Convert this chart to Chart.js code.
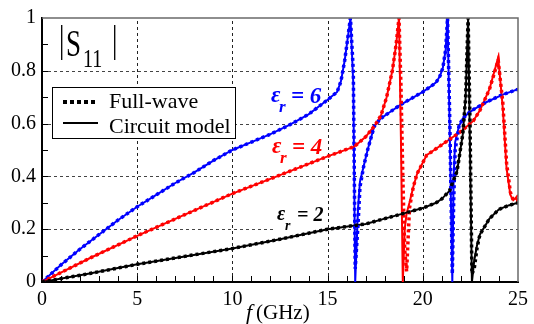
<!DOCTYPE html>
<html>
<head>
<meta charset="utf-8">
<script src="https://cdn.jsdelivr.net/npm/chart.js@4.4.0/dist/chart.umd.min.js"></script>
<style>
body { margin: 0; background: #fff; }
#wrap { width: 534px; height: 324px; }
</style>
</head>
<body>
<div id="wrap"><canvas id="s11Chart" width="534" height="324"></canvas></div>
<script>
// frequency (GHz) and |S11|, one set per permittivity
const freqBlue = [0, 1, 2, 3, 4, 5, 6, 7, 8, 9, 10, 11, 12, 13, 14, 15, 15.5, 15.7, 15.9, 16.05, 16.2, 16.35, 16.45, 16.6, 16.7, 16.9, 17.1, 17.45, 17.8, 18.3, 18.8, 19.4, 20, 20.4, 20.7, 20.9, 21.05, 21.2, 21.3, 21.42, 21.55, 21.62, 21.7, 21.9, 22.1, 22.4, 22.7, 23.3, 24.2, 25];
const blueCircuit = [0, 0.065, 0.125, 0.18, 0.235, 0.285, 0.33, 0.375, 0.415, 0.46, 0.5, 0.53, 0.56, 0.595, 0.635, 0.69, 0.72, 0.76, 0.84, 0.92, 1.0, 0.75, 0.0, 0.28, 0.38, 0.44, 0.5, 0.59, 0.62, 0.645, 0.67, 0.695, 0.72, 0.74, 0.756, 0.78, 0.81, 0.88, 1.0, 0.55, 0.0, 0.4, 0.53, 0.59, 0.62, 0.64, 0.655, 0.68, 0.71, 0.73];
const blueFullWave = [0, 0.065, 0.125, 0.18, 0.235, 0.285, 0.33, 0.375, 0.415, 0.46, 0.5, 0.53, 0.56, 0.595, 0.635, 0.69, 0.72, 0.76, 0.84, 0.92, 1.0, 0.8, 0.05, 0.22, 0.36, 0.44, 0.5, 0.59, 0.62, 0.645, 0.67, 0.695, 0.72, 0.74, 0.756, 0.78, 0.81, 0.88, 1.0, 0.6, 0.03, 0.3, 0.5, 0.59, 0.62, 0.64, 0.655, 0.68, 0.71, 0.73];

const freqRed = [0, 2.5, 5, 7.5, 10, 12.5, 15, 16.4, 17, 17.45, 17.8, 18.1, 18.4, 18.6, 18.75, 18.85, 18.95, 19.05, 19.15, 19.3, 19.5, 19.7, 20.2, 21, 22, 22.65, 23, 23.5, 23.96, 24.2, 24.4, 24.6, 24.75, 24.9, 25];
const redCircuit = [0, 0.09, 0.175, 0.255, 0.335, 0.405, 0.476, 0.513, 0.55, 0.59, 0.63, 0.7, 0.8, 0.9, 1.0, 0.55, 0.0, 0.2, 0.26, 0.3, 0.36, 0.41, 0.48, 0.52, 0.57, 0.61, 0.65, 0.73, 0.85, 0.66, 0.43, 0.33, 0.31, 0.32, 0.33];
const redFullWave = [0, 0.09, 0.175, 0.255, 0.335, 0.405, 0.476, 0.513, 0.55, 0.59, 0.63, 0.7, 0.8, 0.9, 1.0, 0.75, 0.4, 0.12, 0.04, 0.28, 0.36, 0.41, 0.48, 0.52, 0.57, 0.61, 0.65, 0.73, 0.84, 0.68, 0.45, 0.34, 0.31, 0.31, 0.32];

const freqBlack = [0, 2.5, 5, 7.5, 10, 12.5, 15, 17, 18, 19, 20, 20.7, 21, 21.4, 21.8, 22.1, 22.25, 22.38, 22.48, 22.58, 22.7, 22.85, 23, 23.5, 24, 24.5, 25];
const blackCircuit = [0, 0.032, 0.067, 0.097, 0.127, 0.162, 0.2, 0.22, 0.24, 0.26, 0.28, 0.3, 0.315, 0.345, 0.42, 0.56, 0.7, 1.0, 0.5, 0.0, 0.08, 0.14, 0.18, 0.24, 0.275, 0.29, 0.3];
const blackFullWave = [0, 0.032, 0.067, 0.097, 0.127, 0.162, 0.2, 0.22, 0.24, 0.26, 0.28, 0.3, 0.315, 0.345, 0.42, 0.56, 0.7, 1.0, 0.6, 0.03, 0.05, 0.13, 0.18, 0.24, 0.275, 0.29, 0.3];

const xTicks = [0, 5, 10, 15, 20, 25];
const yTicks = [0, 0.2, 0.4, 0.6, 0.8, 1];

const serif = '"Liberation Serif"';

function toPoints(xs, ys) {
    return xs.map((x, i) => ({ x: x, y: ys[i] }));
}

function fullWaveSet(label, xs, ys, color) {
    return { label, data: toPoints(xs, ys), borderColor: color, borderWidth: 3.5,
        borderDash: [3, 3], borderCapStyle: 'butt', pointRadius: 0, showLine: true, tension: 0 };
}
function circuitSet(label, xs, ys, color) {
    return { label, data: toPoints(xs, ys), borderColor: color, borderWidth: 2,
        pointRadius: 0, showLine: true, tension: 0 };
}

// dashed grid, minor ticks, frame, legend box and labels
const decor = {
    id: 'decor',
    beforeDatasetsDraw(chart) {
        const { ctx, chartArea: a } = chart;
        const xs = chart.scales.x, ys = chart.scales.y;
        ctx.save();
        // dashed grid at the labelled ticks
        ctx.lineWidth = 1;
        ctx.setLineDash([3, 3]);
        ctx.strokeStyle = '#222';
        ctx.beginPath();
        xTicks.slice(1, -1).forEach(v => {
            const px = Math.round(xs.getPixelForValue(v)) + 0.5;
            ctx.moveTo(px, a.bottom);
            ctx.lineTo(px, a.top);
        });
        ctx.stroke();
        ctx.strokeStyle = '#444';
        ctx.beginPath();
        yTicks.slice(1, -1).forEach(v => {
            const py = Math.round(ys.getPixelForValue(v)) + 0.5;
            ctx.moveTo(a.left, py);
            ctx.lineTo(a.right, py);
        });
        ctx.stroke();
        ctx.setLineDash([]);
        // white patches behind the text, they break the dashed grid
        ctx.fillStyle = '#fff';
        ctx.fillRect(56, 28, 66, 42);
        ctx.fillRect(274, 206, 52, 28);
        // minor ticks
        ctx.strokeStyle = '#000';
        ctx.beginPath();
        for (let f = 1; f < 25; f++) {
            const px = Math.round(xs.getPixelForValue(f)) + 0.5;
            ctx.moveTo(px, a.bottom);
            ctx.lineTo(px, a.bottom - 6);
        }
        for (let v = 1; v < 10; v++) {
            const py = Math.round(ys.getPixelForValue(v / 10)) + 0.5;
            ctx.moveTo(a.left, py);
            ctx.lineTo(a.left + 6, py);
        }
        ctx.stroke();
        ctx.restore();
    },
    afterDatasetsDraw(chart) {
        const { ctx, chartArea: a } = chart;
        ctx.save();
        // top and right frame
        ctx.strokeStyle = '#6a6a6a';
        ctx.lineWidth = 1.5;
        ctx.beginPath();
        ctx.moveTo(a.left, a.top);
        ctx.lineTo(a.right, a.top);
        ctx.lineTo(a.right, a.bottom);
        ctx.stroke();

        // |S11|
        ctx.fillStyle = '#000';
        ctx.textBaseline = 'alphabetic';
        ctx.save();
        ctx.scale(1, 1.4);
        ctx.font = '27px ' + serif;
        ctx.fillText('|', 59, 52 / 1.4);
        ctx.fillText('S', 66, 56 / 1.4);
        ctx.fillText('|', 112, 52 / 1.4);
        ctx.restore();
        ctx.save();
        ctx.scale(1, 1.3);
        ctx.font = '20px ' + serif;
        ctx.fillText('11', 83, 67 / 1.3);
        ctx.restore();

        // legend
        ctx.fillStyle = '#fff';
        ctx.fillRect(52.5, 87.5, 183, 51);
        ctx.strokeStyle = '#000';
        ctx.lineWidth = 1;
        ctx.strokeRect(52.5, 87.5, 183, 51);
        ctx.lineWidth = 4;
        ctx.setLineDash([4, 3]);
        ctx.beginPath();
        ctx.moveTo(63, 102);
        ctx.lineTo(98, 102);
        ctx.stroke();
        ctx.setLineDash([]);
        ctx.lineWidth = 2;
        ctx.beginPath();
        ctx.moveTo(63, 123);
        ctx.lineTo(98, 123);
        ctx.stroke();
        ctx.fillStyle = '#000';
        ctx.font = '22px ' + serif;
        ctx.fillText('Full-wave', 109, 108);
        ctx.fillText('Circuit model', 109, 133);

        // permittivity labels
        const eps = (color, x, y, val, size) => {
            ctx.fillStyle = color;
            ctx.font = 'italic bold ' + size + 'px ' + serif;
            ctx.fillText('\u03b5', x, y);
            ctx.fillText('= ' + val, x + 20, y + 1);
            ctx.font = 'italic bold ' + Math.round(size * 0.72) + 'px ' + serif;
            ctx.fillText('r', x + 8, y + 10);
        };
        eps('#0000ff', 271, 102, '6', 23);
        eps('#ff0000', 272, 153, '4', 23);
        eps('#000', 277, 220, '2', 20);

        // axis title
        ctx.fillStyle = '#000';
        ctx.font = 'italic 22px ' + serif;
        ctx.fillText('f', 246, 319);
        ctx.font = '21px ' + serif;
        ctx.fillText('(GHz)', 256, 319);
        ctx.restore();
    }
};

function drawChart() {
    const ctx = document.getElementById('s11Chart').getContext('2d');
    new Chart(ctx, {
        type: 'scatter',
        data: {
            datasets: [
                fullWaveSet('Full-wave, \u03b5r = 2', freqBlack, blackFullWave, '#000000'),
                fullWaveSet('Full-wave, \u03b5r = 4', freqRed, redFullWave, '#ff0000'),
                fullWaveSet('Full-wave, \u03b5r = 6', freqBlue, blueFullWave, '#0000ff'),
                circuitSet('Circuit model, \u03b5r = 2', freqBlack, blackCircuit, '#000000'),
                circuitSet('Circuit model, \u03b5r = 4', freqRed, redCircuit, '#ff0000'),
                circuitSet('Circuit model, \u03b5r = 6', freqBlue, blueCircuit, '#0000ff')
            ]
        },
        options: {
            responsive: false,
            animation: false,
            devicePixelRatio: 1,
            layout: { padding: { left: 0, right: 12, top: 15, bottom: 0 } },
            plugins: { legend: { display: false }, tooltip: { enabled: false } },
            scales: {
                x: {
                    type: 'linear', min: 0, max: 25,
                    afterFit(scale) { scale.height = 42; },
                    afterBuildTicks(scale) { scale.ticks = xTicks.map(v => ({ value: v })); },
                    ticks: { color: '#000', font: { family: serif, size: 20 }, padding: 6, maxRotation: 0 },
                    grid: { display: false, drawTicks: false },
                    border: { display: true, color: '#000', width: 2 }
                },
                y: {
                    type: 'linear', min: 0, max: 1,
                    afterFit(scale) { scale.width = 42; },
                    afterBuildTicks(scale) { scale.ticks = yTicks.map(v => ({ value: v })); },
                    ticks: { color: '#000', font: { family: serif, size: 20 }, padding: 6,
                        callback: v => String(Math.round(v * 10) / 10) },
                    grid: { display: false, drawTicks: false },
                    border: { display: true, color: '#000', width: 2 }
                }
            }
        },
        plugins: [decor]
    });
}

Promise.all([
    document.fonts.load('20px "Liberation Serif"'),
    document.fonts.load('italic 20px "Liberation Serif"'),
    document.fonts.load('italic bold 20px "Liberation Serif"')
]).then(drawChart, drawChart);
</script>
</body>
</html>
